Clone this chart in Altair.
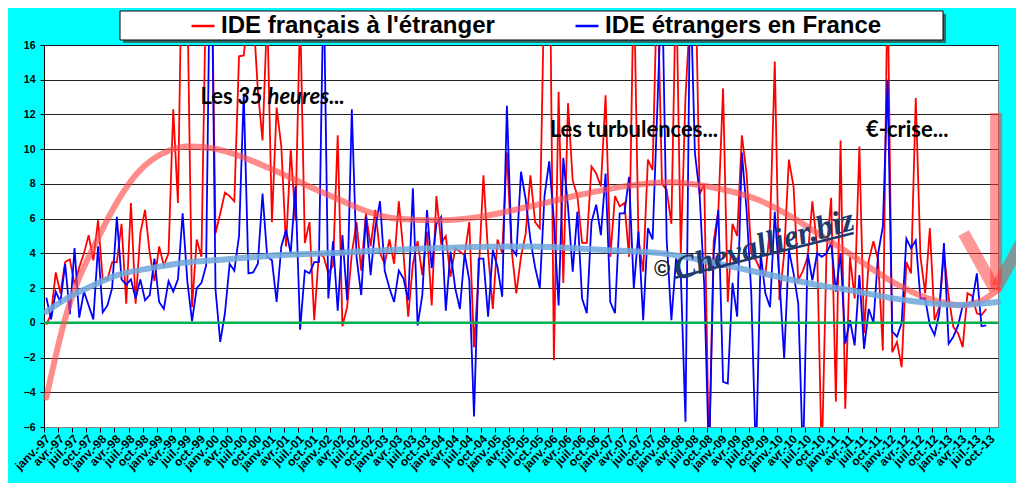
import json
import altair as alt
import pandas as pd

SERIE_FR = "IDE français à l'étranger"
SERIE_ETR = "IDE étrangers en France"

MOIS = ["janv.", "avr.", "juil.", "oct."]
ANNEES = ["97", "98", "99", "00", "01", "02", "03", "04", "05", "06",
          "07", "08", "09", "10", "11", "12", "13"]
TICK_LABELS = [f"{MOIS[k % 4]}-{ANNEES[k // 4]}" for k in range(68)]

# Monthly values (janv.-97 .. sept.-13)
ide_fr = [
    -0.1, 0.5, 2.9, 1.7, 3.5, 3.65, 2.2, 3.2, 4.0, 5.05, 3.6, 5.9, 2.5, 2.5, 3.5, 3.5, 5.7,
    1.1, 6.9, 1.1, 5.15, 6.5, 4.0, 2.4, 4.4, 3.3, 4.0, 12.3, 6.9, 24, 19, 0.9, 4.8, 3.8,
    20, 24, 5.15, 6.3, 7.5, 7.3, 7.0, 15.35, 15.4, 18, 18, 13.4, 10.5, 18, 5.8, 12.4, 10.15,
    4.4, 10.0, 5.9, 18, 4.6, 5.8, 0.15, 4.0, 3.8, 2.85, 3.3, 10.8, -0.2, 0.9, 4.0, 5.8, 3.0,
    6.3, 4.4, 6.5, 4.0, 3.4, 4.8, 3.4, 7.0, 4.0, 0.35, 3.4, 4.7, 2.75, 5.25, 1.0, 7.3, 4.6,
    5.0, 2.65, 4.3, 4.1, 3.9, 5.8, -1.4, 2.85, 8.5, 4.0, 0.8, 4.8, 4.0, 9.8, 4.2, 1.7, 3.8,
    5.15, 8.5, 5.8, 5.45, 20, 25, -2.15, 13.3, 2.3, 12.65, 8.2, 7.3, 4.6, 4.6, 9.0, 8.6, 7.85,
    13.1, 3.8, 7.3, 6.7, 6.9, 3.8, 20, 4.8, 2.95, 9.4, 8.8, 20, 8.0, 7.65, 5.7, 20, 4.0, 13.0,
    18, 22,
    7.4, 8.0, -8, 4.7, 6.5, 13.5, 1.2, 5.7, 5.0, 10.8, 8.6, 4.0, 3.6, 3.0, 2.75, 5.5, 15.05,
    1.3, 4.0, 9.4, 7.85, 2.45, 3.0, 3.8, 7.0, 4.4, -8, 4.0, 7.2, -4.55, 10.5,
    -4.95, 3.8, 1.4, 10.15, -0.6, 3.6, 4.7, 3.6, -1.6, 20, -1.7, -1.1, -2.55, 3.5, 2.85, 12.95,
    3.8, 1.7, 5.45, 0.15, 0.9, 4.0, 1.5, -0.25, -0.6, -1.4, 1.7, 1.55, 0.55, 0.45, 0.8,
]
ide_etr = [
    1.45, 0.2, 1.8, 1.2, 3.4, 0.5, 4.3, 0.3, 1.8, 1.0, 0.2, 4.4, 0.6, 1.0, 2.0, 6.1, 2.5,
    2.2, 2.5, 1.4, 2.5, 1.3, 1.6, 3.7, 1.2, 0.8, 2.4, 1.8, 2.5, 6.3, 2.4, 0.1, 2.0, 2.3,
    3.3, 25, 1.9, -1.1, 0.55, 3.4, 3.0, 5.0, 13.2, 2.85, 2.9, 3.4, 7.45, 3.8, 3.6, 1.2, 4.4,
    5.35, 4.0, 7.85, -0.4, 3.0, 2.85, 3.5, 3.5, 20, 1.4, 4.7, 0.7, 5.05, 1.3, 12.3, 3.8, 1.6,
    6.1, 2.75, 5.5, 7.0, 3.0, 2.0, 1.2, 3.0, 2.55, 1.3, 7.75, -0.15, 1.6, 6.5, 3.15, 5.7, 6.1,
    0.7, 4.1, 2.0, 0.8, 4.0, 2.45, -5.4, 3.7, 3.7, 0.35, 4.2, 3.2, 1.5, 12.5, 4.3, 3.9, 8.7,
    7.1, 4.8, 3.2, 2.0, 7.3, 9.3, 5.9, 1.0, 9.5, 6.7, 2.95, 6.4, 1.4, 0.55, 5.8, 6.8, 5.05,
    8.6, 1.2, 0.55, 6.3, 6.3, 8.4, 2.0, 5.25, 0.15, 5.45, 4.8, 12.3, 20, 4.8, 0.15, 3.7, 2.85,
    -5.7, 20, 9.8, 7.45, 2.1, -8, 4.0, 6.5, -3.4, -3.5, 2.3, 0.35, 9.8, 6.5, 1.7, -8, 4.0,
    1.7, 0.9, 6.4, 2.45, -2.05, 4.2, 2.85, 1.1, -8, 4.0, 2.45, 4.0, 3.8, 4.0, 4.6, 1.8, 4.0,
    -1.2, 0.15, -1.3, 2.75, -1.5, 0.8, 0.0, 4.0, 5.55, 14.0, -0.5, -0.8, 0.0, 4.85, 4.3, 4.75,
    1.4, 1.4, -0.15, -0.7, 0.55, 4.6, -1.2, -0.8, -0.15, 1.0, 1.0, 1.2, 2.85, -0.2, -0.15,
]

# Trend curves, read at a few months
tend_fr_mois = [0, 3.75, 11.5, 19.3, 26.4, 29.9, 34.3, 38.5, 48.3, 57.6, 62.5, 67.4, 74.6,
                83.7, 92.2, 102.8, 113.4, 124.0, 132.5, 141.0, 151.6, 158.6, 165.8, 170.0,
                174.6, 181.8, 188.8, 194.6, 198.8, 202.5]
tend_fr_val = [-4.3, 0.0, 5.15, 8.6, 9.95, 10.15, 10.1, 9.85, 8.8, 7.65, 7.07, 6.5, 6.0,
               5.9, 6.1, 6.7, 7.36, 7.9, 8.1, 7.84, 7.07, 6.1, 4.85, 4.15,
               3.3, 2.1, 1.3, 1.0, 1.25, 1.9]
tend_etr_mois = [0, 4.5, 8.7, 15.1, 22.2, 29.2, 38.5, 50.4, 62.5, 81.6, 102.8, 118.7, 131.1,
                 135.7, 143.0, 151.6, 165.7, 169.5, 179.7, 193.9, 202.5]
tend_etr_val = [0.64, 1.43, 2.0, 2.75, 3.15, 3.46, 3.66, 3.9, 4.04, 4.29, 4.4, 4.2, 4.0,
                3.8, 3.4, 2.9, 2.1, 1.95, 1.43, 1.03, 1.2]

annot_texte = ["Les", "35 heures...", "Les turbulences...", "€-crise..."]
annot_mois = [32.8, 40.6, 107.1, 174.4]
annot_val = [13.0, 13.0, 11.1, 11.1]
annot_italique = [False, True, False, False]

fleche_mois = [202.1, 195.2, 201.9]
fleche_val = [12.09, 5.17, 1.9]
fleche_mois2 = [202.1, 201.9, 207.8]
fleche_val2 = [2.18, 1.9, 4.77]

n = len(ide_fr)
df = pd.DataFrame({
    "mois": list(range(n)) * 2,
    "valeur": ide_fr + ide_etr,
    "serie": [SERIE_FR] * n + [SERIE_ETR] * n,
})
df_tfr = pd.DataFrame({"mois": tend_fr_mois, "valeur": tend_fr_val})
df_tetr = pd.DataFrame({"mois": tend_etr_mois, "valeur": tend_etr_val})
df_ann = pd.DataFrame({"mois": annot_mois, "valeur": annot_val,
                       "texte": annot_texte, "ital": annot_italique})
df_fl = pd.DataFrame({"mois": fleche_mois, "valeur": fleche_val,
                      "mois2": fleche_mois2, "valeur2": fleche_val2})
df_zero = pd.DataFrame({"valeur": [0]})
df_one = pd.DataFrame({"a": [0]})
df_wm = pd.DataFrame({"mois": [152.7], "valeur": [4.48], "texte": ["Chevallier.biz"]})
df_c = pd.DataFrame({"mois": [131.0], "valeur": [3.1], "texte": ["©"]})
df_ul = pd.DataFrame({"mois": [133.6], "valeur": [2.58], "mois2": [171.8], "valeur2": [5.17]})

FONT = "Liberation Sans"
x_scale = alt.Scale(domain=[-0.5, 202.5], nice=False, zero=False)
y_scale = alt.Scale(domain=[-6, 16], nice=False, zero=False)

label_expr = f"{json.dumps(TICK_LABELS)}[round((datum.value + 0.5) / 3)]"
x_enc = alt.X("mois:Q", scale=x_scale, axis=alt.Axis(
    values=[3 * k - 0.5 for k in range(68)], labelExpr=label_expr, title=None,
    grid=False, labelAngle=-45, labelAlign="right", labelBaseline="top",
    labelFont=FONT, labelFontWeight="bold", labelFontSize=12, labelColor="black",
    labelOverlap=False, labelFlush=False, labelBound=False, labelPadding=1,
    tickColor="black", tickSize=5, domainColor="#808080"))
y_enc = alt.Y("valeur:Q", scale=y_scale, axis=alt.Axis(
    values=list(range(-6, 17, 2)), title=None, grid=True, gridColor="#222222",
    gridWidth=1, labelFont=FONT, labelFontWeight="bold", labelFontSize=10.5,
    labelColor="black", tickColor="black", tickSize=4, labelPadding=5,
    domainColor="black"))

color_enc = alt.Color("serie:N", scale=alt.Scale(domain=[SERIE_FR, SERIE_ETR],
                                                 range=["#FF0000", "#0000FF"]),
                      legend=alt.Legend(orient="none", legendX=146, legendY=-32,
                                        direction="horizontal", title=None,
                                        symbolType="stroke", symbolSize=529,
                                        symbolStrokeWidth=2.5, labelFont=FONT,
                                        labelFontSize=24, labelFontWeight="bold",
                                        labelColor="black", labelOffset=5,
                                        columnPadding=75, padding=0, labelLimit=500))

shadow = alt.Chart(df_one).mark_rect(color="#2E7070").encode(
    x=alt.value(79), x2=alt.value(902), y=alt.value(-31), y2=alt.value(-2))
box = alt.Chart(df_one).mark_rect(fill="white", stroke="black", strokeWidth=1).encode(
    x=alt.value(76), x2=alt.value(899), y=alt.value(-34), y2=alt.value(-5))

line_fr = alt.Chart(df).transform_filter(alt.datum.serie == SERIE_FR).mark_line(
    strokeWidth=1.8, clip=True).encode(x=x_enc, y=y_enc, color=color_enc)
line_etr = alt.Chart(df).transform_filter(alt.datum.serie == SERIE_ETR).mark_line(
    strokeWidth=1.8, clip=True).encode(x=x_enc, y=y_enc, color=color_enc)

zero = alt.Chart(df_zero).mark_rule(color="#00B050", strokeWidth=2.5).encode(y=y_enc)

trend_fr = alt.Chart(df_tfr).mark_line(interpolate="monotone", strokeWidth=6,
                                        color="#FF4D4D", opacity=0.65,
                                        strokeCap="round").encode(x=x_enc, y=y_enc)
trend_etr = alt.Chart(df_tetr).mark_line(interpolate="monotone", strokeWidth=6,
                                          color="#6FA8DC", opacity=0.85,
                                          strokeCap="round").encode(x=x_enc, y=y_enc)

ann_droit = alt.Chart(df_ann).transform_filter("!datum.ital").mark_text(
    align="left", baseline="middle", font="Lato", fontWeight="bold", fontSize=22,
    color="black").encode(x=x_enc, y=y_enc, text="texte:N")
ann_ital = alt.Chart(df_ann).transform_filter("datum.ital").mark_text(
    align="left", baseline="middle", font="Lato", fontWeight="bold", fontStyle="italic",
    fontSize=22, color="black").encode(x=x_enc, y=y_enc, text="texte:N")

wm = alt.Chart(df_wm).mark_text(align="center", baseline="middle", font="Liberation Serif",
                                fontStyle="italic", fontWeight="bold", fontSize=33,
                                angle=344, color="#1F3A6E").encode(x=x_enc, y=y_enc,
                                                                   text="texte:N")
wm_c = alt.Chart(df_c).mark_text(align="center", baseline="middle", font=FONT,
                                 fontWeight="bold", fontSize=22, color="#222222").encode(
    x=x_enc, y=y_enc, text="texte:N")
ul = alt.Chart(df_ul).mark_rule(color="#1F3A6E", strokeWidth=2.5).encode(
    x=x_enc, y=y_enc, x2="mois2:Q", y2="valeur2:Q")

fleche = alt.Chart(df_fl).mark_rule(color="#FF3030", opacity=0.5, strokeWidth=12).encode(
    x=x_enc, y=y_enc, x2="mois2:Q", y2="valeur2:Q")

chart = alt.layer(
    shadow, box, line_fr, line_etr, zero, trend_fr, trend_etr, ann_droit, ann_ital,
    wm, wm_c, ul, fleche
).properties(
    width=954, height=382,
    padding={"left": 36, "top": 37, "right": 18, "bottom": 56},
    autosize=alt.AutoSizeParams(type="none"),
    background="#00FFFF",
).configure_view(stroke="#808080", strokeWidth=1, fill="white")

chart.save("out.html", embed_options={"renderer": "svg", "actions": False})
